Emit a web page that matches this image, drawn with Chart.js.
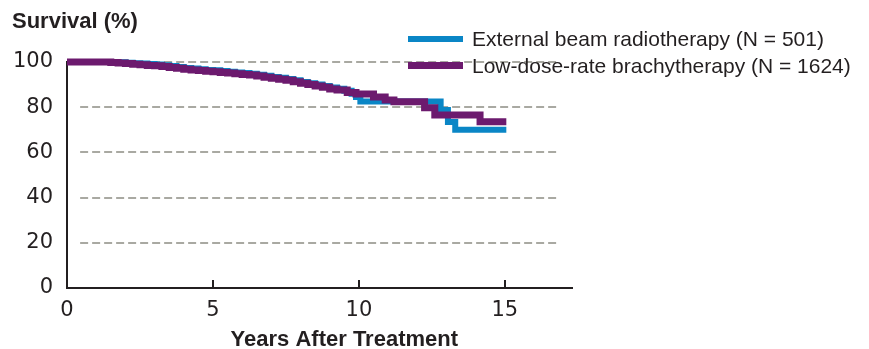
<!DOCTYPE html>
<html>
<head>
<meta charset="utf-8">
<script src="https://cdn.jsdelivr.net/npm/chart.js@4"></script>
<style>
  body { margin: 0; background: #fff; }
  #wrap { position: relative; width: 869px; height: 349px; }
  #legend { position: absolute; left: 408px; top: 25px; font-family: "Liberation Sans", Arial, sans-serif; font-size: 21px; color: #231f20; }
  .item { display: flex; align-items: center; height: 27px; white-space: nowrap; }
  .swatch { width: 55px; margin-right: 9px; }
</style>
</head>
<body>
<div id="wrap">
  <canvas id="chart" width="869" height="349"></canvas>
  <div id="legend"></div>
</div>
<script>
// -------------------------------------------------------------------
// Data (Kaplan-Meier steps: value holds from each time onward)
// -------------------------------------------------------------------
const ebrtYears    = [0, 1.25, 1.5, 1.75, 2.0, 2.25, 2.5, 2.75, 3.0, 3.25, 3.5, 3.75, 4.0, 4.25, 4.5, 4.75, 5.0, 5.25, 5.5, 5.75, 6.0, 6.25, 6.5, 6.75, 7.0, 7.25, 7.5, 7.75, 8.0, 8.25, 8.5, 8.75, 9.0, 9.25, 9.5, 9.75, 9.9, 10.05, 12.8, 13.05, 13.3, 15.05];
const ebrtSurvival = [100, 100, 100, 99.9, 99.7, 99.5, 99.3, 99.1, 98.9, 98.6, 98.2, 97.8, 97.4, 97.1, 96.8, 96.5, 96.3, 96.0, 95.7, 95.4, 95.1, 94.8, 94.4, 93.9, 93.4, 93.0, 92.5, 91.9, 91.2, 90.6, 90.0, 89.4, 88.7, 88.2, 87.3, 86.0, 84.5, 82.5, 78.8, 73.5, 70.0, 70.0];

const ldrYears     = [0, 1.25, 1.5, 1.75, 2.0, 2.25, 2.5, 2.75, 3.0, 3.25, 3.5, 3.75, 4.0, 4.25, 4.5, 4.75, 5.0, 5.25, 5.5, 5.75, 6.0, 6.25, 6.5, 6.75, 7.0, 7.25, 7.5, 7.75, 8.0, 8.25, 8.5, 8.75, 9.0, 9.25, 9.6, 9.9, 10.5, 10.9, 11.2, 12.25, 12.6, 14.15, 15.05];
const ldrSurvival  = [100, 100, 99.8, 99.6, 99.3, 99.0, 98.8, 98.5, 98.3, 98.0, 97.6, 97.2, 96.8, 96.5, 96.2, 95.9, 95.7, 95.4, 95.1, 94.8, 94.5, 94.2, 93.8, 93.3, 92.8, 92.4, 91.9, 91.3, 90.6, 90.0, 89.4, 88.8, 88.1, 87.6, 86.5, 85.8, 84.5, 83.2, 82.4, 79.8, 76.6, 73.6, 73.6];

const xTicks = [0, 5, 10, 15];
const yTicks = [0, 20, 40, 60, 80, 100];

const SERIES = [
  { label: "External beam radiotherapy (N = 501)",   color: "#0a86c6", width: 6, order: 1, years: ebrtYears, values: ebrtSurvival },
  { label: "Low-dose-rate brachytherapy (N = 1624)", color: "#6c1a6e", width: 7, order: 0, years: ldrYears,  values: ldrSurvival }
];

const INK       = "#231f20";
const FONT      = "'Liberation Sans', Arial, sans-serif";
const TICK_FONT = "'DejaVu Sans', sans-serif";

// -------------------------------------------------------------------
// Plugins: dashed guide lines, inward x ticks, x axis title
// -------------------------------------------------------------------
const dashedGrid = {
  id: "dashedGrid",
  beforeDatasetsDraw(chart) {
    const { ctx, scales: { x, y } } = chart;
    ctx.save();
    ctx.strokeStyle = "#a9a9a2";
    ctx.lineWidth = 2;
    ctx.setLineDash([8, 4]);
    yTicks.filter(v => v > 0).forEach(v => {
      const py = Math.round(y.getPixelForValue(v));
      ctx.beginPath();
      ctx.moveTo(x.getPixelForValue(0.45), py);
      ctx.lineTo(x.getPixelForValue(16.8), py);
      ctx.stroke();
    });
    ctx.restore();
  }
};

const innerTicks = {
  id: "innerTicks",
  afterDraw(chart) {
    const { ctx, scales: { x, y } } = chart;
    const base = y.getPixelForValue(0);
    ctx.save();
    ctx.strokeStyle = INK;
    ctx.lineWidth = 2;
    xTicks.filter(v => v > 0).forEach(v => {
      const px = Math.round(x.getPixelForValue(v));
      ctx.beginPath();
      ctx.moveTo(px, base);
      ctx.lineTo(px, base - 8);
      ctx.stroke();
    });
    ctx.fillStyle = INK;
    ctx.font = "bold 22px " + FONT;
    ctx.textAlign = "center";
    ctx.textBaseline = "middle";
    ctx.fillText("Years After Treatment", x.getPixelForValue(9.5), 340);
    ctx.restore();
  }
};

// -------------------------------------------------------------------
// Chart
// -------------------------------------------------------------------
new Chart(document.getElementById("chart"), {
  type: "line",
  data: {
    datasets: SERIES.map(s => ({
      label:       s.label,
      data:        s.years.map((t, i) => ({ x: t, y: s.values[i] })),
      order:       s.order,
      borderColor: s.color,
      borderWidth: s.width,
      stepped:     true,
      pointRadius: 0,
      fill:        false,
      clip:        false,
      borderCapStyle:  "butt",
      borderJoinStyle: "miter"
    }))
  },
  options: {
    responsive: false,
    animation: false,
    layout: { padding: { left: 12, right: 297, top: 0, bottom: 0 } },
    plugins: {
      legend:  { display: false },
      tooltip: { enabled: false },
      title: {
        display: true,
        text: "Survival (%)",
        align: "start",
        color: INK,
        font: { family: FONT, size: 22, weight: "bold" },
        padding: { top: 9, bottom: 26.6 }
      }
    },
    scales: {
      x: {
        type: "linear",
        min: 0,
        max: 17.3,
        afterFit: s => { s.height = 61; },
        afterBuildTicks: s => { s.ticks = xTicks.map(v => ({ value: v })); },
        ticks: { color: INK, padding: 10, font: { family: TICK_FONT, size: 21 } },
        grid:   { display: false, drawTicks: false },
        border: { display: true, color: INK, width: 2 }
      },
      y: {
        min: 0,
        max: 100,
        afterFit: s => { s.width = 55; },
        afterBuildTicks: s => { s.ticks = yTicks.map(v => ({ value: v })); },
        ticks: { color: INK, padding: 14, font: { family: TICK_FONT, size: 21 } },
        grid:   { display: false, drawTicks: false },
        border: { display: true, color: INK, width: 2 }
      }
    }
  },
  plugins: [dashedGrid, innerTicks]
});

// -------------------------------------------------------------------
// Legend
// -------------------------------------------------------------------
document.getElementById("legend").innerHTML = SERIES.map(s => `
  <div class="item">
    <span class="swatch" style="height:${s.width}px;background:${s.color}"></span>
    <span>${s.label}</span>
  </div>`).join("");
</script>
</body>
</html>
